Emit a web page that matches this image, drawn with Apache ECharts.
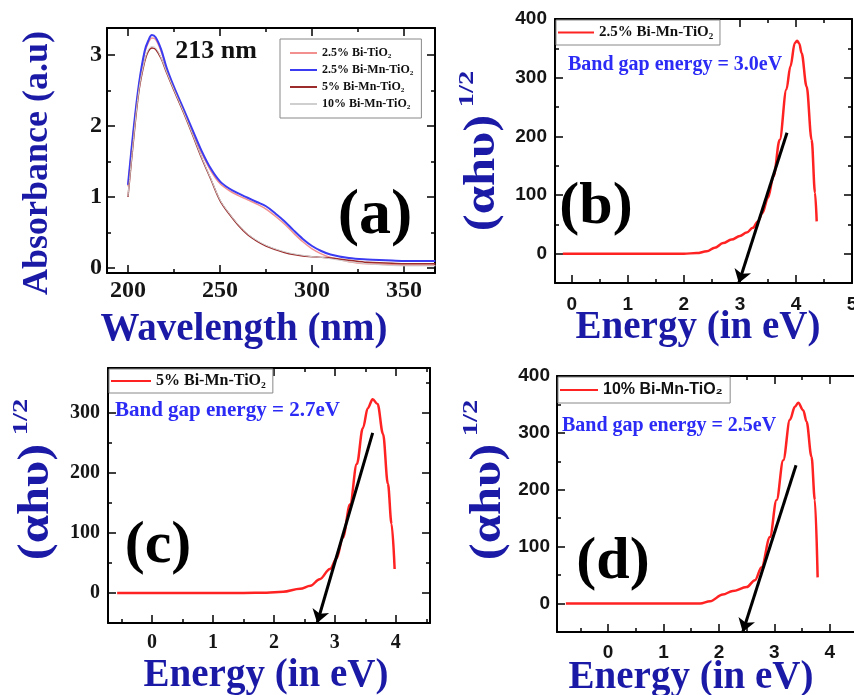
<!DOCTYPE html>
<html>
<head>
<meta charset="utf-8">
<script src="https://cdn.jsdelivr.net/npm/echarts@6/dist/echarts.min.js"></script>
</head>
<body style="margin:0">
<div style="position:relative;width:854px;height:695px">
  <div id="frame" style="position:absolute;left:0;top:0;width:854px;height:695px"></div>
  <div id="chart" style="position:absolute;left:0;top:0;width:854px;height:695px"></div>
</div>
<script>
// (a) UV-vis absorbance
const wavelength = [200, 203, 206, 209, 211, 213, 215, 218, 221, 225, 230, 235, 240, 245, 250, 255, 260, 265, 270, 275, 280, 285, 290, 295, 300, 305, 310, 320, 330, 340, 350, 360, 367];
const absBiTi   = [1.15, 1.92, 2.57, 3.02, 3.17, 3.24, 3.22, 3.05, 2.80, 2.53, 2.22, 1.92, 1.62, 1.37, 1.19, 1.09, 1.02, 0.96, 0.90, 0.83, 0.73, 0.62, 0.49, 0.37, 0.27, 0.20, 0.15, 0.09, 0.06, 0.05, 0.04, 0.04, 0.04];
const absBiMn25 = [1.17, 1.95, 2.60, 3.05, 3.20, 3.28, 3.25, 3.08, 2.82, 2.55, 2.25, 1.95, 1.65, 1.40, 1.22, 1.12, 1.05, 0.99, 0.93, 0.87, 0.77, 0.66, 0.53, 0.41, 0.31, 0.24, 0.19, 0.14, 0.12, 0.11, 0.10, 0.10, 0.10];
const absBiMn5  = [1.00, 1.80, 2.50, 2.90, 3.05, 3.10, 3.08, 2.95, 2.75, 2.50, 2.20, 1.88, 1.55, 1.25, 0.95, 0.76, 0.60, 0.47, 0.38, 0.31, 0.26, 0.22, 0.19, 0.17, 0.16, 0.15, 0.14, 0.11, 0.08, 0.07, 0.06, 0.06, 0.06];
const absBiMn10 = [1.01, 1.82, 2.52, 2.92, 3.07, 3.12, 3.10, 2.96, 2.76, 2.51, 2.21, 1.89, 1.56, 1.26, 0.96, 0.77, 0.61, 0.48, 0.39, 0.32, 0.27, 0.23, 0.20, 0.18, 0.16, 0.15, 0.13, 0.09, 0.06, 0.04, 0.03, 0.03, 0.03];
const namesA = ['2.5% Bi-TiO₂', '2.5% Bi-Mn-TiO₂', '5% Bi-Mn-TiO₂', '10% Bi-Mn-TiO₂'];
const ticksA = [200, 250, 300, 350];
const minorA = [225, 275, 325];
const yTicksA = [0, 1, 2, 3];
const yMinorA = [0.5, 1.5, 2.5];

// (b) 2.5% Bi-Mn-TiO2 Tauc plot
const energyB = [-0.16, 0.5, 1, 1.5, 2, 2.23, 2.41, 2.55, 2.7, 2.85, 3.0, 3.12, 3.23, 3.32, 3.4, 3.5, 3.6, 3.71, 3.83, 3.9, 3.98, 4.02, 4.06, 4.1, 4.19, 4.28, 4.34, 4.37];
const taucB   = [0, 0, 0, 0, 0, 1, 4, 10, 18, 24, 30, 36, 44, 55, 69, 95, 132, 194, 280, 319, 359, 363, 358, 342, 285, 194, 104, 55];
const arrowB  = [[3.84, 206], [2.98, -50]];

// (c) 5% Bi-Mn-TiO2
const energyC = [-0.57, 0, 1, 1.5, 1.88, 2.15, 2.43, 2.6, 2.75, 2.92, 3.03, 3.13, 3.25, 3.36, 3.46, 3.54, 3.62, 3.7, 3.79, 3.87, 3.93, 3.98];
const taucC   = [0, 0, 0, 0, 0.5, 2, 7, 12, 23, 40, 58, 92, 148, 215, 275, 308, 323, 315, 265, 182, 115, 40];
const arrowC  = [[3.62, 267], [2.71, -50]];

// (d) 10% Bi-Mn-TiO2
const energyD = [-0.76, 0, 1, 1.66, 1.84, 2.07, 2.25, 2.5, 2.65, 2.77, 2.92, 3.04, 3.16, 3.28, 3.37, 3.43, 3.52, 3.58, 3.67, 3.73, 3.78];
const taucD   = [0, 0, 0, 0, 4, 16, 22, 29, 41, 64, 117, 182, 252, 323, 346, 353, 340, 320, 258, 182, 46];
const arrowD  = [[3.39, 243], [2.43, -50]];

const eTicksB = [0, 1, 2, 3, 4, 5];
const eMinorB = [0.5, 1.5, 2.5, 3.5, 4.5];
const eTicksCD = [0, 1, 2, 3, 4];
const eMinorCD = [-0.5, 0.5, 1.5, 2.5, 3.5, 4.5];
const tTicks = [0, 100, 200, 300, 400];
const tMinor = [-50, 50, 150, 250, 350];

const SERIF = '"Liberation Serif", "Times New Roman", serif';
const SANS = '"Liberation Sans", Arial, sans-serif';
const NAVY = '#1a1aa6';

// panel boxes and axis ranges
const panels = [
  { rect: { left: 107, top: 28, width: 328, height: 245 }, x: [188.6, 366.8], y: [-0.07, 3.38] },
  { rect: { left: 555, top: 19, width: 297, height: 264 }, x: [-0.3, 5.0], y: [-50, 400] },
  { rect: { left: 108, top: 368, width: 322, height: 255 }, x: [-0.72, 4.56], y: [-50, 375] },
  { rect: { left: 557, top: 376, width: 305, height: 256 }, x: [-0.92, 4.58], y: [-50, 400] }
];

// ---- frame chart: boxes, tick marks, tick labels ----
const frameChart = echarts.init(document.getElementById('frame'));
const fGrids = [], fX = [], fY = [];

function axis(gi, pos, range, vals, len, lab, showLine) {
  return {
    type: 'value', gridIndex: gi, min: range[0], max: range[1], position: pos,
    axisLine: { show: showLine, onZero: false, lineStyle: { color: '#000', width: 2 } },
    splitLine: { show: false },
    axisTick: { show: true, inside: true, length: len, customValues: vals, lineStyle: { color: '#000', width: 1.5 } },
    axisLabel: lab ? Object.assign({ customValues: vals }, lab) : { show: false, customValues: vals }
  };
}

function frame(p, xMaj, xMin, yMaj, yMin, xLab, yLab) {
  const P = panels[p], g = fGrids.length;
  fGrids.push(Object.assign({ outerBoundsMode: 'none' }, P.rect), Object.assign({ outerBoundsMode: 'none' }, P.rect));
  fX.push(axis(g, 'bottom', P.x, xMaj, 8, xLab, true), axis(g, 'top', P.x, xMaj, 8, null, true),
          axis(g + 1, 'bottom', P.x, xMin, 4, null, false), axis(g + 1, 'top', P.x, xMin, 4, null, false));
  fY.push(axis(g, 'left', P.y, yMaj, 8, yLab, true), axis(g, 'right', P.y, yMaj, 8, null, true),
          axis(g + 1, 'left', P.y, yMin, 4, null, false), axis(g + 1, 'right', P.y, yMin, 4, null, false));
}

function lab(font, size, margin) {
  return { fontFamily: font, fontWeight: 'bold', fontSize: size, color: '#151515', margin: margin };
}

frame(0, ticksA, minorA, yTicksA, yMinorA, lab(SERIF, 24, 6), lab(SERIF, 24, 5));
frame(1, eTicksB, eMinorB, tTicks, tMinor, lab(SANS, 19, 12), lab(SANS, 19, 8));
frame(2, eTicksCD, eMinorCD, tTicks, tMinor, lab(SERIF, 20, 10), lab(SERIF, 20, 8));
frame(3, eTicksCD, eMinorCD, tTicks, tMinor, lab(SANS, 19, 11), lab(SANS, 19, 7));

frameChart.setOption({
  animation: false, backgroundColor: '#fff',
  grid: fGrids, xAxis: fX, yAxis: fY
});

// ---- data chart on top: curves, arrows, legends, texts ----
const chart = echarts.init(document.getElementById('chart'));

const hidden = { show: false };
function plainAxis(i, range) {
  return { type: 'value', gridIndex: i, min: range[0], max: range[1],
    axisLine: { show: false, onZero: false }, axisTick: hidden, axisLabel: hidden, splitLine: hidden };
}

function zip(xs, ys) { return xs.map(function (x, i) { return [x, ys[i]]; }); }

function absSeries(name, ys, color, width) {
  return {
    name: name, type: 'line', xAxisIndex: 0, yAxisIndex: 0,
    data: zip(wavelength, ys), symbol: 'none', smooth: 0.35,
    lineStyle: { color: color, width: width }, itemStyle: { color: color }
  };
}

function taucSeries(name, i, xs, ys, arrow) {
  return {
    name: name, type: 'line', xAxisIndex: i, yAxisIndex: i,
    data: zip(xs, ys), symbol: 'none', smooth: 0.35, smoothMonotone: 'x',
    lineStyle: { color: '#ff2222', width: 2.5 }, itemStyle: { color: '#ff2222' },
    markLine: {
      silent: true, symbol: ['none', 'arrow'], symbolSize: 13, animation: false,
      label: { show: false },
      lineStyle: { color: '#000', width: 3, type: 'solid' },
      data: [[{ coord: arrow[0] }, { coord: arrow[1] }]]
    }
  };
}

// trailing spaces keep legend names distinct from panel (a)
const nameB = '2.5% Bi-Mn-TiO₂ ', nameC = '5% Bi-Mn-TiO₂ ', nameD = '10% Bi-Mn-TiO₂ ';

function legendBox(names, left, top, font, size, iw, pad) {
  return {
    data: names, left: left, top: top, orient: 'vertical', selectedMode: false,
    icon: 'rect', itemWidth: iw, itemHeight: 2, itemGap: 5, padding: pad,
    borderColor: '#888', borderWidth: 1, backgroundColor: '#fff',
    textStyle: { fontFamily: font, fontWeight: 'bold', fontSize: size, color: '#111' }
  };
}

function txt(text, x, y, size, color, opts) {
  return Object.assign({
    type: 'text', x: x, y: y, z: 100,
    style: { text: text, fontFamily: SERIF, fontWeight: 'bold', fontSize: size, fill: color, align: 'center', verticalAlign: 'middle' }
  }, opts || {});
}
function leftTxt(text, x, y, size, color) {
  return {
    type: 'text', x: x, y: y, z: 100,
    style: { text: text, fontFamily: SERIF, fontWeight: 'bold', fontSize: size, fill: color, align: 'left', verticalAlign: 'middle' }
  };
}
const UP = { rotation: Math.PI / 2 };
const UP_WIDE = { rotation: Math.PI / 2, scaleX: 1.15 };
const UP_SUP = { rotation: Math.PI / 2, scaleX: 1.3 };

chart.setOption({
  animation: false, backgroundColor: 'transparent',
  grid: panels.map(function (P) { return Object.assign({ outerBoundsMode: 'none' }, P.rect); }),
  xAxis: panels.map(function (P, i) { return plainAxis(i, P.x); }),
  yAxis: panels.map(function (P, i) { return plainAxis(i, P.y); }),
  legend: [
    legendBox(namesA, 280, 39, SERIF, 12, 27, [8, 8, 8, 10]),
    legendBox([nameB], 556, 20, SERIF, 15, 36, [5, 3, 5, 2]),
    legendBox([nameC], 109, 369, SERIF, 16, 40, [4, 3, 4, 2]),
    legendBox([nameD], 558, 377, SANS, 16, 38, [5, 3, 5, 2])
  ],
  series: [
    absSeries(namesA[0], absBiTi, '#f29090', 1.5),
    absSeries(namesA[1], absBiMn25, '#3b3bf2', 2),
    absSeries(namesA[2], absBiMn5, '#9c2b2b', 1.5),
    absSeries(namesA[3], absBiMn10, '#cfcfcf', 1),
    taucSeries(nameB, 1, energyB, taucB, arrowB),
    taucSeries(nameC, 2, energyC, taucC, arrowC),
    taucSeries(nameD, 3, energyD, taucD, arrowD)
  ],
  graphic: [
    txt('Absorbance (a.u)', 38, 163, 36, NAVY, UP),
    txt('Wavelength (nm)', 244, 330, 39, NAVY),
    txt('213 nm', 216, 51, 26, '#111'),
    txt('(a)', 375, 216, 64, '#000'),

    txt('(αhυ)', 483, 173, 44, NAVY, UP_WIDE),
    txt('1/2', 467, 89, 22, NAVY, UP_SUP),
    txt('Energy (in eV)', 698, 328, 39, NAVY),
    txt('(b)', 596, 207, 60, '#000'),
    leftTxt('Band gap energy = 3.0eV', 568, 65, 20, '#2b2bf5'),

    txt('(αhυ)', 37, 502, 44, NAVY, UP_WIDE),
    txt('1/2', 21, 417, 22, NAVY, UP_SUP),
    txt('Energy (in eV)', 266, 676, 39, NAVY),
    txt('(c)', 158, 546, 60, '#000'),
    leftTxt('Band gap energy = 2.7eV', 115, 411, 21, '#2b2bf5'),

    txt('(αhυ)', 489, 502, 44, NAVY, UP_WIDE),
    txt('1/2', 471, 418, 22, NAVY, UP_SUP),
    txt('Energy (in eV)', 691, 678, 39, NAVY),
    txt('(d)', 613, 562, 60, '#000'),
    leftTxt('Band gap energy = 2.5eV', 562, 426, 20, '#2b2bf5')
  ]
});
</script>
</body>
</html>
